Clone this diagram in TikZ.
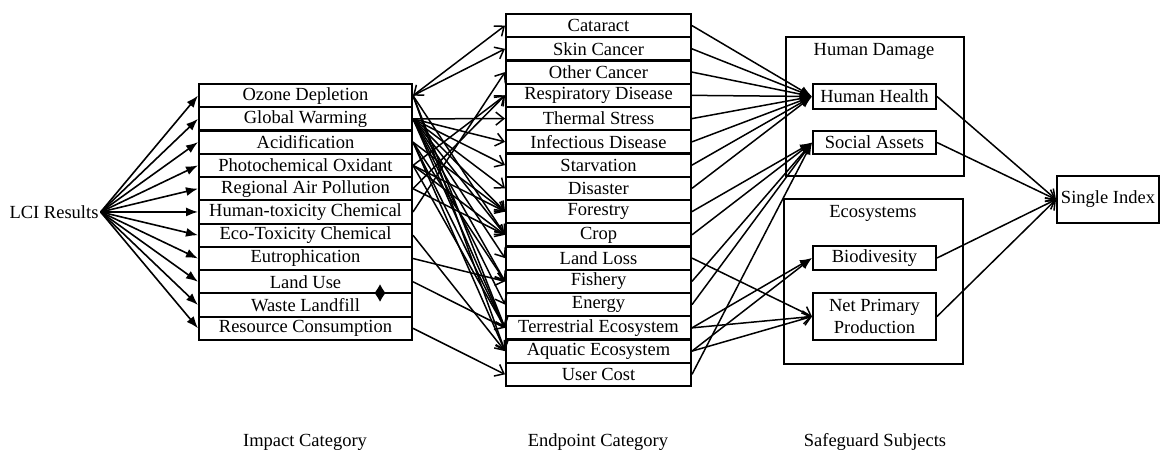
\documentclass[tikz,border=0pt]{standalone}
\usepackage{fontspec}
\setmainfont{Liberation Serif}
\usetikzlibrary{arrows.meta}

\begin{document}
\begin{tikzpicture}[x=1pt,y=-1pt,
  lbl/.style={font=\fontsize{18.5}{22}\selectfont, inner sep=0pt},
  cell/.style={lbl, draw, line width=2pt, fill=white, anchor=north west, minimum height=23.2pt},
  impactcell/.style={cell, minimum width=213pt},
  endcell/.style={cell, minimum width=185pt},
  subjbox/.style={lbl, draw, line width=2pt, fill=white, anchor=north west, minimum width=123pt},
  framebox/.style={draw, line width=2pt, anchor=north west, inner sep=0pt},
  feed/.style={line width=1.6pt, -{Latex[length=12pt,width=9pt]}},
  link/.style={line width=1.5pt, -{Straight Barb[length=8pt,width=13pt,line width=1.5pt]}},
  twolink/.style={line width=1.5pt, {Straight Barb[length=8pt,width=13pt,line width=1.5pt]}-{Straight Barb[length=8pt,width=13pt,line width=1.5pt]}},
  heavylink/.style={line width=1.5pt, -{Latex[length=12pt,width=9pt]}},
]
\useasboundingbox (0,0) rectangle (1160,453);

% source
\node[lbl, inner xsep=2pt] (lci) at (54,212) {LCI Results};

% impact categories
\foreach \t [count=\k] in {Ozone Depletion, Global Warming, Acidification,
    Photochemical Oxidant, Regional Air Pollution, Human-toxicity Chemical,
    Eco-Toxicity Chemical, Eutrophication, Land Use, Waste Landfill,
    Resource Consumption}
  \node[impactcell] (i\k) at (198,{83+23.27*(\k-1)}) {\t};

% endpoint categories
\foreach \t [count=\k] in {Cataract, Skin Cancer, Other Cancer,
    Respiratory Disease, Thermal Stress, Infectious Disease, Starvation,
    Disaster, Forestry, Crop, Land Loss, Fishery, Energy,
    Terrestrial Ecosystem, Aquatic Ecosystem, User Cost}
  \node[endcell] (e\k) at (505,{13+23.25*(\k-1)}) {\t};

% safeguard subjects
\node[framebox, minimum width=178pt, minimum height=139pt] (hdframe) at (785,36) {};
\node[lbl] (hdtitle) at (874,51) {Human Damage};
\node[framebox, minimum width=179pt, minimum height=165pt] (ecoframe) at (783,198) {};
\node[lbl] (ecotitle) at (873,213) {Ecosystems};

\node[subjbox, minimum height=25pt] (hh) at (812,83) {Human Health};
\node[subjbox, minimum height=23pt] (sa) at (812,130) {Social Assets};
\node[subjbox, minimum height=24pt] (bio) at (812,245) {Biodivesity};
\node[subjbox, minimum height=47pt, align=center] (npp) at (812,292) {Net Primary\\Production};

\node[lbl, draw, line width=2pt, anchor=north west, minimum width=102pt, minimum height=47pt] (single) at (1056,175) {Single Index};

% column captions
\node[lbl] (capimpact) at (305,442) {Impact Category};
\node[lbl] (capend) at (598,442) {Endpoint Category};
\node[lbl] (capsafe) at (875,442) {Safeguard Subjects};

% LCI results feed every impact category
\foreach \k in {1,...,11}
  \draw[feed] (lci.east) -- (i\k.west);

% impact categories to endpoints
\draw[twolink] (i1.east) -- (e1.west);
\foreach \a/\b in {1/2, 1/10, 1/14, 1/15,
    2/5, 2/6, 2/7, 2/8, 2/9, 2/10, 2/11, 2/12, 2/13, 2/14,
    3/9, 3/12, 3/14, 3/15,
    4/4, 4/9, 4/10, 4/14,
    5/4, 5/10,
    6/3,
    7/15,
    8/12,
    9/14,
    11/16}
  \draw[link] (i\a.east) -- (e\b.west);

% land use / waste landfill link
\coordinate (lu) at (380,284);
\coordinate (wl) at (380,302);
\draw[line width=1.4pt, {Latex[length=8pt,width=10pt]}-{Latex[length=8pt,width=10pt]}] (lu) -- (wl);

% endpoints to safeguard subjects
\foreach \b in {1,...,8}
  \draw[heavylink] (e\b.east) -- (hh.west);
\foreach \b in {9,10,12,13,16}
  \draw[heavylink] (e\b.east) -- (sa.west);
\draw[link] (e11.east) -- (npp.west);
\draw[heavylink] (e14.east) -- (bio.west);
\draw[heavylink] (e15.east) -- (bio.west);
\draw[link] (e14.east) -- (npp.west);
\draw[link] (e15.east) -- (npp.west);

% safeguard subjects to the single index
\foreach \s in {hh, sa, bio, npp}
  \draw[link] (\s.east) -- (single.west);
\end{tikzpicture}
\end{document}
